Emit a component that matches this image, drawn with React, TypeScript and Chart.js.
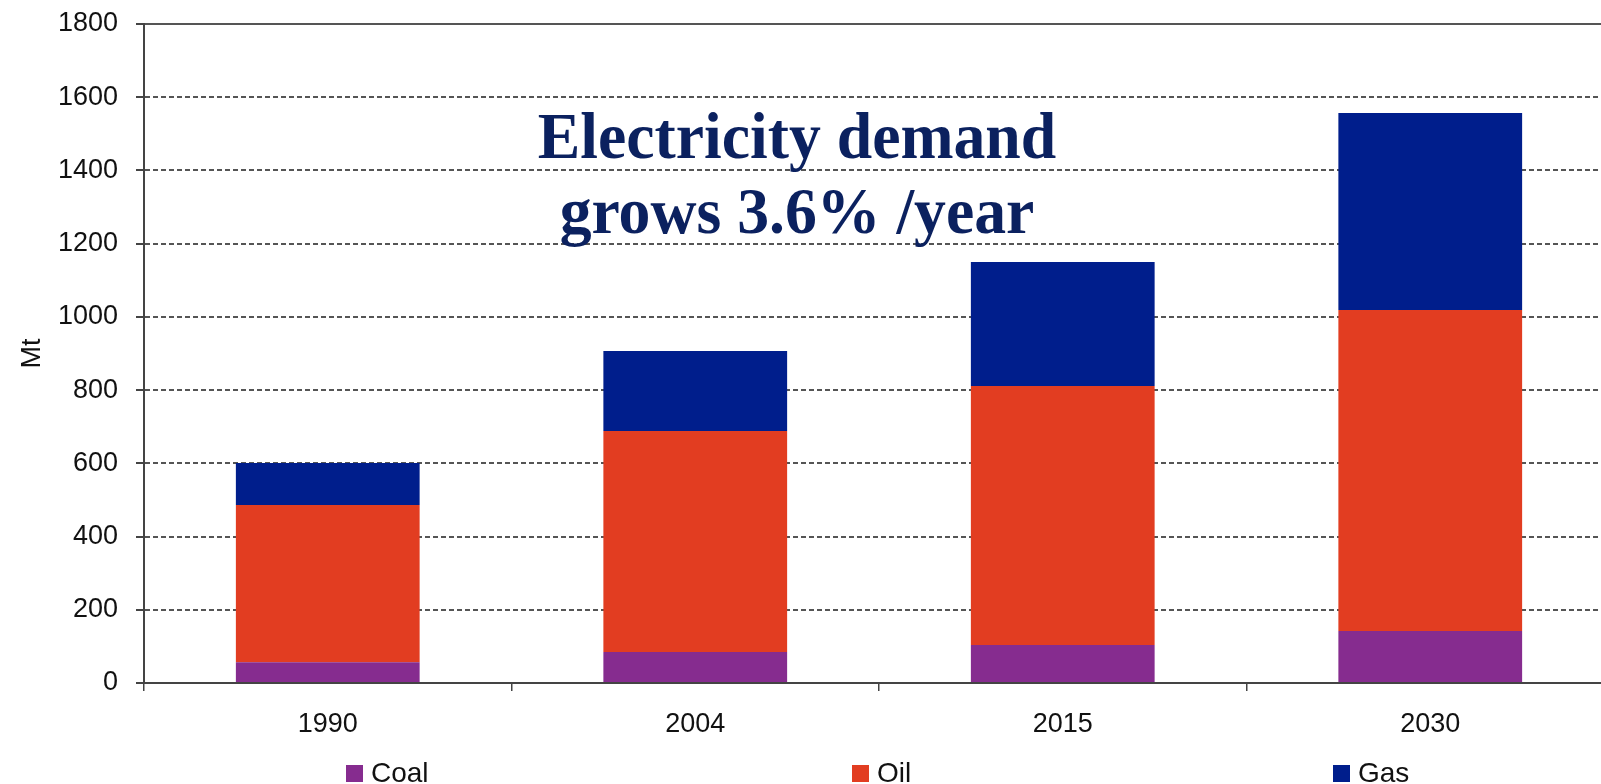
import React, { useEffect, useRef } from "react";
import { Chart, registerables } from "chart.js";

Chart.register(...registerables);

// ---- data ----
const categories = ["1990", "2004", "2015", "2030"];
const coal = [57, 85, 104, 142];
const oil = [429, 603, 707, 877];
const gas = [115, 219, 339, 538];
const seriesNames = ["Coal", "Oil", "Gas"];
const seriesColors = ["#862C8F", "#E23D21", "#001E8C"];
const yMin = 0;
const yMax = 1800;
const yStep = 200;
const yAxisTitle = "Mt";
const headline = ["Electricity demand", "grows 3.6% /year"];

// ---- layout ----
const legendLefts = [346, 852, 1333];
const SANS = '"Liberation Sans", Arial, sans-serif';

export default function App() {
  const canvasRef = useRef<HTMLCanvasElement | null>(null);

  useEffect(() => {
    if (!canvasRef.current) return;
    const seriesData = [coal, oil, gas];
    const chart = new Chart(canvasRef.current, {
      type: "bar",
      data: {
        labels: categories,
        datasets: seriesNames.map((name, i) => ({
          label: name,
          data: seriesData[i],
          backgroundColor: seriesColors[i],
          borderWidth: 0,
          barPercentage: 0.5,
          categoryPercentage: 1,
        })),
      },
      options: {
        animation: false,
        responsive: true,
        maintainAspectRatio: false,
        layout: { padding: { top: 24, right: 6, bottom: 0, left: 0 } },
        plugins: {
          legend: { display: false },
          tooltip: { enabled: false },
        },
        scales: {
          x: {
            stacked: true,
            offset: true,
            grid: {
              display: true,
              drawOnChartArea: false,
              drawTicks: true,
              tickLength: 8,
              color: "#444",
              lineWidth: 1.5,
              offset: true,
            },
            border: { display: true, color: "#444", width: 2 },
            ticks: {
              color: "#111",
              font: { family: SANS, size: 27 },
              padding: 17,
              maxRotation: 0,
            },
            afterFit: (s: any) => {
              s.height = 101;
              s.paddingLeft = 0;
              s.paddingRight = 0;
            },
          },
          y: {
            stacked: true,
            min: yMin,
            max: yMax,
            ticks: {
              stepSize: yStep,
              color: "#111",
              font: { family: SANS, size: 27 },
              padding: 18,
              callback: (v: any) => String(v),
            },
            grid: {
              color: "#555",
              lineWidth: 2,
              tickLength: 8,
              drawTicks: true,
              tickColor: "#444",
            },
            border: {
              display: true,
              color: "#444",
              width: 2,
              dash: (ctx: any) => {
                const v = ctx && ctx.tick ? ctx.tick.value : undefined;
                if (v === undefined || v === yMax || v === yMin) return [];
                return [5, 3];
              },
            },
            title: {
              display: true,
              text: yAxisTitle,
              color: "#111",
              font: { family: SANS, size: 27 },
              padding: { top: 16, bottom: 0 },
            },
            afterFit: (s: any) => {
              s.width = 144;
              s.paddingTop = 0;
              s.paddingBottom = 0;
            },
          },
        },
      },
    } as any);
    return () => chart.destroy();
  }, []);

  return (
    <div
      style={{
        position: "fixed",
        left: 0,
        top: 0,
        width: 1601,
        height: 784,
        overflow: "hidden",
        background: "#fff",
      }}
    >
      <div style={{ position: "relative", width: 1620, height: 784 }}>
        <canvas ref={canvasRef} />
      </div>
      <div
        style={{
          position: "absolute",
          left: 797,
          top: 99,
          transform: "translateX(-50%) scaleX(0.98)",
          transformOrigin: "center",
          whiteSpace: "nowrap",
          textAlign: "center",
          fontFamily: '"Liberation Serif", "Times New Roman", serif',
          fontWeight: "bold",
          fontSize: 65,
          lineHeight: "75px",
          color: "#0B215F",
        }}
      >
        {headline.map((l, i) => (
          <div key={i}>{l}</div>
        ))}
      </div>
      {seriesNames.map((name, i) => (
        <div
          key={name}
          style={{
            position: "absolute",
            left: legendLefts[i],
            top: 757,
            height: 32,
            display: "flex",
            alignItems: "center",
            fontFamily: SANS,
            fontSize: 28,
            color: "#111",
            whiteSpace: "nowrap",
          }}
        >
          <span
            style={{
              display: "inline-block",
              width: 17,
              height: 17,
              background: seriesColors[i],
              marginRight: 8,
            }}
          />
          {name}
        </div>
      ))}
    </div>
  );
}
